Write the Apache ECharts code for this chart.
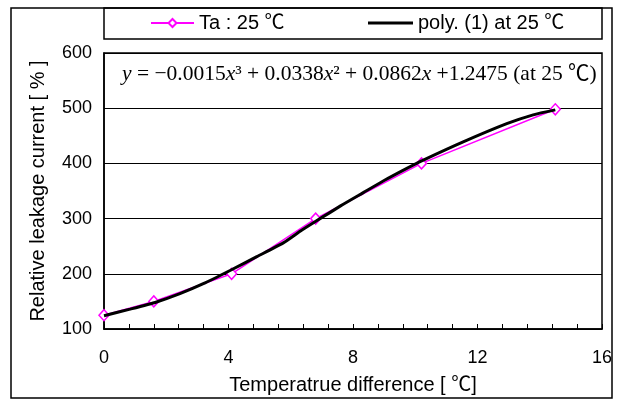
<!DOCTYPE html>
<html>
<head>
<meta charset="utf-8">
<script src="https://cdn.jsdelivr.net/npm/echarts@6/dist/echarts.min.js"></script>
<style>
html,body{margin:0;padding:0;background:#fff;}
#c{width:623px;height:401px;}
</style>
</head>
<body>
<div id="c"></div>
<script>
// ---- data ----
const seriesNames = ['Ta : 25 ℃', 'poly. (1) at 25 ℃'];
// measured points (temperature difference, relative leakage current %)
const measuredX = [0, 1.6, 4.1, 6.8, 10.2, 14.5];
const measuredY = [125, 150, 200, 300, 400, 498];
// fitted polynomial trend line
const fitX = [0, 0.84, 1.69, 2.44, 3.19, 4.05, 4.91, 5.76, 6.3, 6.83, 7.6, 8.33, 9.0, 9.73, 10.26, 11.54, 12.94, 13.79, 14.5];
const fitY = [124, 136, 149, 164, 182, 206, 231, 256, 277, 296, 323, 347, 369, 391, 406, 439, 472, 488, 497];
const xTicks = [0, 4, 8, 12, 16];
const yTicks = [100, 200, 300, 400, 500, 600];
const xTitle = 'Temperatrue difference [ ℃]';
const yTitle = 'Relative leakage current [ % ]';
const equationText = '{i|y} = −0.0015{i|x}³ + 0.0338{i|x}² + 0.0862{i|x} +1.2475 (at 25 ℃)';

const SANS = '"Liberation Sans", Arial, "Noto Sans CJK KR", sans-serif';
const SERIF = '"Liberation Serif", "Times New Roman", "Noto Sans CJK KR", serif';

const zip = (xs, ys) => xs.map((x, i) => [x, ys[i]]);

const chart = echarts.init(document.getElementById('c'), null, {renderer: 'canvas'});
chart.setOption({
  animation: false,
  backgroundColor: '#fff',
  grid: {
    left: 104, right: 21, top: 53, bottom: 72,
    show: true, borderColor: '#000', borderWidth: 1.5, backgroundColor: 'transparent'
  },
  legend: [
    {
      data: [seriesNames[0]], left: 150, top: 13, padding: 0,
      itemWidth: 43, itemHeight: 10,
      textStyle: {fontFamily: SANS, fontSize: 20, color: '#000'}
    },
    {
      data: [{name: seriesNames[1], icon: 'rect'}], left: 368, top: 13, padding: 0,
      itemWidth: 45, itemHeight: 3,
      textStyle: {fontFamily: SANS, fontSize: 20, color: '#000'}
    }
  ],
  xAxis: {
    type: 'value',
    min: xTicks[0], max: xTicks[xTicks.length - 1], interval: xTicks[1] - xTicks[0],
    name: xTitle, nameLocation: 'middle', nameGap: 46,
    nameTextStyle: {fontFamily: SANS, fontSize: 20, color: '#000'},
    axisLine: {show: true, lineStyle: {color: '#000', width: 1.5}},
    axisTick: {show: true, inside: true, length: 5, lineStyle: {color: '#000'}},
    minorTick: {show: true, splitNumber: 5, length: 5, lineStyle: {color: '#000'}},
    splitLine: {show: false},
    axisLabel: {fontFamily: SANS, fontSize: 18, color: '#000', margin: 20}
  },
  yAxis: {
    type: 'value',
    min: yTicks[0], max: yTicks[yTicks.length - 1], interval: yTicks[1] - yTicks[0],
    name: yTitle, nameLocation: 'middle', nameGap: 56, nameRotate: 90,
    nameTextStyle: {fontFamily: SANS, fontSize: 20, color: '#000'},
    axisLine: {show: true, lineStyle: {color: '#000', width: 1.5}},
    axisTick: {show: false},
    splitLine: {show: true, lineStyle: {color: '#000', width: 1}},
    axisLabel: {fontFamily: SANS, fontSize: 18, color: '#000', margin: 12}
  },
  series: [
    {
      name: seriesNames[0], type: 'line',
      data: zip(measuredX, measuredY),
      symbol: 'diamond', symbolSize: [10, 11],
      itemStyle: {color: '#fff', borderColor: '#ff00ff', borderWidth: 1.5},
      lineStyle: {color: '#ff00ff', width: 1.5},
      color: '#ff00ff',
      z: 2
    },
    {
      name: seriesNames[1], type: 'line',
      data: zip(fitX, fitY),
      symbol: 'none', smooth: 0.2,
      lineStyle: {color: '#000', width: 3},
      itemStyle: {color: '#000'},
      color: '#000',
      z: 3
    }
  ],
  graphic: [
    {
      type: 'rect', shape: {x: 11, y: 8, width: 601, height: 390},
      style: {fill: 'none', stroke: '#000', lineWidth: 1.5}, silent: true, z: -1
    },
    {
      type: 'rect', shape: {x: 104, y: 8, width: 498, height: 31},
      style: {fill: 'none', stroke: '#000', lineWidth: 1.5}, silent: true, z: -1
    },
    {
      type: 'text', left: 122, top: 64, silent: true, z: 10,
      style: {
        text: equationText,
        font: '21.5px ' + SERIF, fill: '#000',
        rich: {
          i: {fontFamily: SERIF, fontSize: 21.5, fontStyle: 'italic', fill: '#000'}
        }
      }
    }
  ]
});
</script>
</body>
</html>
